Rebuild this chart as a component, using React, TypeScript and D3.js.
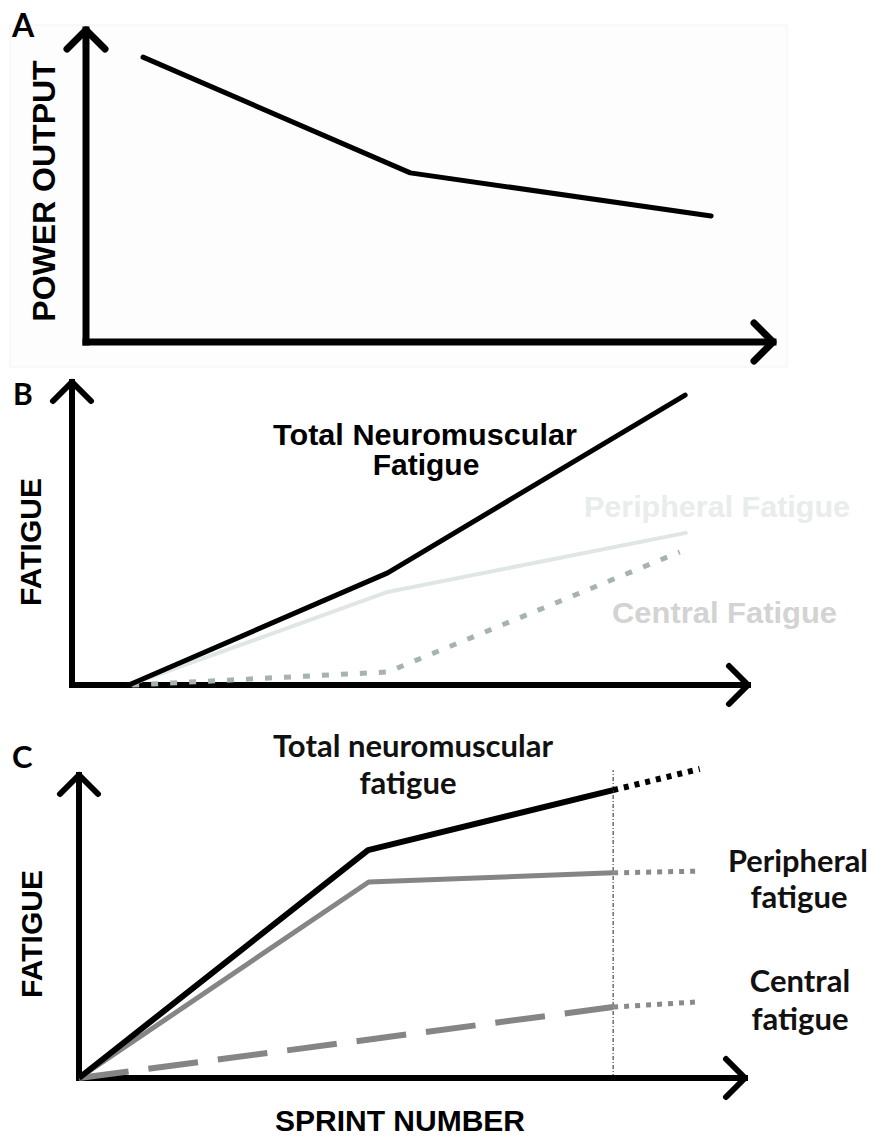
import React from "react";
import * as d3 from "d3";

// ---------- DATA (conceptual units, 0..100 along each axis) ----------
// Panel A: power output across sprints
const aSprint = [8.3, 47.2, 91.0];
const aPower = [91.3, 54.2, 40.4];

// Panel B
const bTotalX = [8.4, 46.7, 90.7];
const bTotalY = [0, 37.0, 95.7];
const bPeriphX = [8.4, 46.7, 90.8];
const bPeriphY = [0, 30.7, 50.2];
const bCentralX = [8.9, 46.7, 89.9];
const bCentralY = [0, 4.3, 43.9];

// Panel C
const cTotalX = [0, 43.4, 80.2];
const cTotalY = [0, 75.2, 95.0];
const cTotalProjX = [80.2, 93.2];
const cTotalProjY = [95.0, 102.0];
const cPeriphX = [0, 43.5, 80.2];
const cPeriphY = [0, 64.7, 67.7];
const cPeriphProjX = [80.2, 93.2];
const cPeriphProjY = [67.7, 68.3];
const cCentralX = [0, 80.2];
const cCentralY = [0, 23.4];
const cCentralProjX = [80.2, 92.8];
const cCentralProjY = [23.4, 25.1];
const cMarkerX = 80.2;
const cMarkerTop = 101.6;

// labels
const panelLetters = ["A", "B", "C"];
const aYLabel = "POWER OUTPUT";
const fatigueLabel = "FATIGUE";
const xLabelC = "SPRINT NUMBER";
const bLabels = ["Total Neuromuscular", "Fatigue", "Peripheral Fatigue", "Central Fatigue"];
const cLabels = ["Total neuromuscular", "fatigue", "Peripheral", "fatigue", "Central", "fatigue"];

const ARIAL = "'Liberation Sans', Arial, Helvetica, sans-serif";
const CALIBRI = "Lato, 'Open Sans', sans-serif";

type Frame = { x0: number; x1: number; y0: number; y1: number };

function makeScales(f: Frame) {
  const x = d3.scaleLinear().domain([0, 100]).range([f.x0, f.x1]);
  const y = d3.scaleLinear().domain([0, 100]).range([f.y0, f.y1]);
  return { x, y };
}

function pathOf(xs: number[], ys: number[], sx: any, sy: any) {
  const pts: [number, number][] = xs.map((v, i) => [v, ys[i]]);
  return d3.line<[number, number]>().x((d) => sx(d[0])).y((d) => sy(d[1]))(pts) || "";
}

function Axes({ sx, sy, w }: { sx: any; sy: any; w: number }) {
  const ox = sx(0), oy = sy(0), tx = sx(100), ty = sy(100);
  const a = 19;
  return (
    <g stroke="#000" strokeWidth={w} fill="none" strokeLinecap="round" strokeLinejoin="round">
      <line x1={ox} y1={oy} x2={ox} y2={ty} strokeLinecap="square" />
      <line x1={ox} y1={oy} x2={tx} y2={oy} strokeLinecap="square" />
      <polyline points={`${ox - a},${ty + a} ${ox},${ty} ${ox + a},${ty + a}`} />
      <polyline points={`${tx - a},${oy - a} ${tx},${oy} ${tx - a},${oy + a}`} />
    </g>
  );
}

function PanelA() {
  const f: Frame = { x0: 86, x1: 773, y0: 342, y1: 30 };
  const { x, y } = makeScales(f);
  return (
    <g>
      <rect x={10} y={25} width={777} height={342} fill="#fdfdfd" stroke="#f3f3f3" />
      <Axes sx={x} sy={y} w={7} />
      <path d={pathOf(aSprint, aPower, x, y)} stroke="#000" strokeWidth={5} fill="none" strokeLinecap="round" strokeLinejoin="round" />
      <text x={12} y={37} fontFamily={CALIBRI} fontWeight={700} fontSize={32} fill="#000">{panelLetters[0]}</text>
      <text transform="translate(43,191) rotate(-90)" textAnchor="middle" dy="0.36em" fontFamily={ARIAL} fontWeight={700} fontSize={32} fill="#000">{aYLabel}</text>
    </g>
  );
}

function PanelB() {
  const f: Frame = { x0: 72, x1: 748, y0: 685, y1: 382 };
  const { x, y } = makeScales(f);
  return (
    <g>
      <Axes sx={x} sy={y} w={6} />
      <path d={pathOf(bPeriphX, bPeriphY, x, y)} stroke="#dfe6e3" strokeWidth={4} fill="none" strokeLinecap="round" strokeLinejoin="round" />
      <path d={pathOf(bCentralX, bCentralY, x, y)} stroke="#a6b3af" strokeWidth={5} fill="none" strokeDasharray="7 12" />
      <path d={pathOf(bTotalX, bTotalY, x, y)} stroke="#000" strokeWidth={5} fill="none" strokeLinecap="round" strokeLinejoin="round" />
      <text x={13} y={405} fontFamily={CALIBRI} fontWeight={700} fontSize={30} fill="#000">{panelLetters[1]}</text>
      <text transform="translate(30,542) rotate(-90)" textAnchor="middle" dy="0.36em" fontFamily={ARIAL} fontWeight={700} fontSize={30} fill="#000">{fatigueLabel}</text>
      <g fontFamily={ARIAL} fontWeight={700} fontSize={30}>
        <text x={273} y={445} textLength={304} lengthAdjust="spacingAndGlyphs" fill="#000">{bLabels[0]}</text>
        <text x={426} y={475} textAnchor="middle" fill="#000">{bLabels[1]}</text>
        <text x={584} y={517} textLength={266} lengthAdjust="spacingAndGlyphs" fill="#e8ecea">{bLabels[2]}</text>
        <text x={612} y={623} textLength={225} lengthAdjust="spacingAndGlyphs" fill="#d2d3d2">{bLabels[3]}</text>
      </g>
    </g>
  );
}

function PanelC() {
  const f: Frame = { x0: 79, x1: 745, y0: 1078, y1: 775 };
  const { x, y } = makeScales(f);
  return (
    <g>
      <line x1={x(cMarkerX)} x2={x(cMarkerX)} y1={y(0)} y2={y(cMarkerTop)} stroke="#222" strokeWidth={1} strokeDasharray="4 2 1 2" />
      <Axes sx={x} sy={y} w={6} />
      <path d={pathOf(cCentralX, cCentralY, x, y)} stroke="#858585" strokeWidth={6} fill="none" strokeDasharray="50 20" />
      <path d={pathOf(cCentralProjX, cCentralProjY, x, y)} stroke="#8a8a8a" strokeWidth={5} fill="none" strokeDasharray="5 6" />
      <path d={pathOf(cPeriphX, cPeriphY, x, y)} stroke="#858585" strokeWidth={5} fill="none" strokeLinejoin="round" />
      <path d={pathOf(cPeriphProjX, cPeriphProjY, x, y)} stroke="#8a8a8a" strokeWidth={5} fill="none" strokeDasharray="5 6" />
      <path d={pathOf(cTotalX, cTotalY, x, y)} stroke="#000" strokeWidth={6} fill="none" strokeLinejoin="round" />
      <path d={pathOf(cTotalProjX, cTotalProjY, x, y)} stroke="#000" strokeWidth={6} fill="none" strokeDasharray="5 6" />
      <text x={12} y={768} fontFamily={CALIBRI} fontWeight={700} fontSize={31} fill="#000">{panelLetters[2]}</text>
      <text transform="translate(31,934) rotate(-90)" textAnchor="middle" dy="0.36em" fontFamily={ARIAL} fontWeight={700} fontSize={30} fill="#000">{fatigueLabel}</text>
      <text x={400} y={1131} textAnchor="middle" fontFamily={ARIAL} fontWeight={700} fontSize={30} fill="#000">{xLabelC}</text>
      <g fontFamily={CALIBRI} fontWeight={700} fontSize={31} fill="#111">
        <text x={273} y={757} textLength={280} lengthAdjust="spacingAndGlyphs">{cLabels[0]}</text>
        <text x={408} y={794} textAnchor="middle">{cLabels[1]}</text>
        <text x={728} y={872} textLength={140} lengthAdjust="spacingAndGlyphs">{cLabels[2]}</text>
        <text x={799} y={908} textAnchor="middle">{cLabels[3]}</text>
        <text x={800} y={992} textAnchor="middle">{cLabels[4]}</text>
        <text x={800} y={1030} textAnchor="middle">{cLabels[5]}</text>
      </g>
    </g>
  );
}

export default function App() {
  return (
    <svg
      width={872}
      height={1136}
      viewBox="0 0 872 1136"
      style={{ position: "absolute", left: 0, top: 0, display: "block", background: "#fff" }}
    >
      <rect x={0} y={0} width={872} height={1136} fill="#fff" />
      <PanelA />
      <PanelB />
      <PanelC />
    </svg>
  );
}
